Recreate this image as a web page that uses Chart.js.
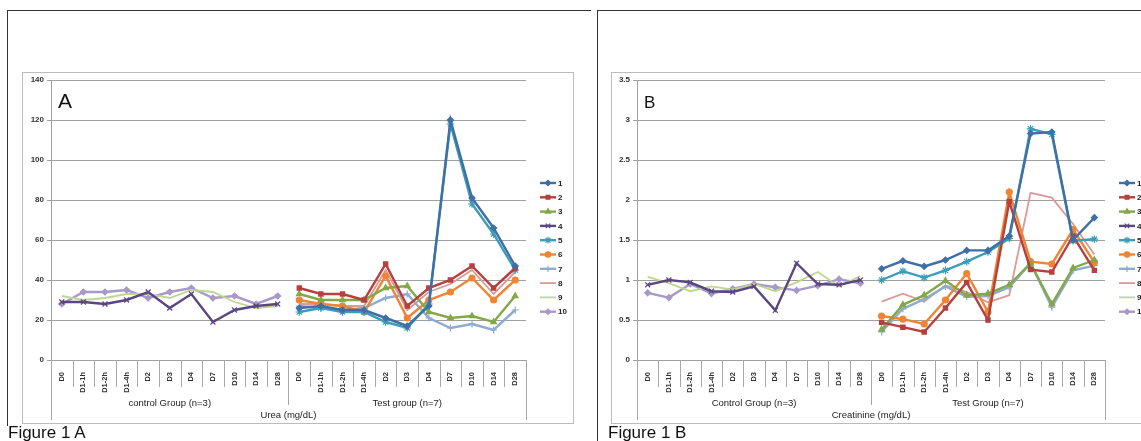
<!DOCTYPE html>
<html>
<head>
<meta charset="utf-8">
<script src="https://cdn.jsdelivr.net/npm/chart.js@4.4.0/dist/chart.umd.min.js"></script>
<style>
  body { margin: 0; width: 1141px; height: 441px; background: #fff; position: relative; overflow: hidden; font-family: 'Liberation Sans', Arial, sans-serif; }
  .frame { position: absolute; border-left: 1px solid #333; border-top: 1px solid #333; }
  .caption { position: absolute; font-size: 17px; color: #111; line-height: 1; }
  canvas { position: absolute; }
</style>
</head>
<body>
<div class="frame" style="left:7px;top:10px;width:583px;height:415px;"></div>
<div class="frame" style="left:597px;top:10px;width:544px;height:431px;"></div>
<canvas id="ureaChart" width="552" height="352" style="left:22px;top:72px;"></canvas>
<canvas id="creatChart" width="540" height="352" style="left:611px;top:72px;"></canvas>
<div class="caption" style="left:8px;top:424px;">Figure 1 A</div>
<div class="caption" style="left:608px;top:424px;">Figure 1 B</div>
<script>
// Time points (same for both groups)
const timePoints = ['D0', 'D1-1h', 'D1-2h', 'D1-4h', 'D2', 'D3', 'D4', 'D7', 'D10', 'D14', 'D28'];
const seriesNames = ['1', '2', '3', '4', '5', '6', '7', '8', '9', '10'];
const controlSeries = ['4', '9', '10']; // n=3, the others are the test group

// Urea (mg/dL), one row per animal
const urea1 = [26, 27, 25, 25, 21, 17, 27, 120, 81, 66, 47];
const urea2 = [36, 33, 33, 30, 48, 27, 36, 40, 47, 36, 46];
const urea3 = [33, 30, 30, 30, 36, 37, 24, 21, 22, 19, 32];
const urea4 = [29, 29, 28, 30, 34, 26, 33, 19, 25, 27, 28];
const urea5 = [24, 26, 24, 24, 19, 16, 28, 118, 78, 63, 45];
const urea6 = [30, 28, 27, 24, 42, 21, 30, 34, 41, 30, 40];
const urea7 = [27, 26, 25, 26, 31, 33, 21, 16, 18, 15, 25];
const urea8 = [28, 28, 27, 27, 45, 25, 34, 38, 45, 33, 44];
const urea9 = [32, 30, 31, 33, 33, 31, 35, 34, 29, 26, 27];
const urea10 = [28, 34, 34, 35, 31, 34, 36, 31, 32, 28, 32];

// Creatinine (mg/dL)
const creat1 = [1.14, 1.24, 1.17, 1.25, 1.37, 1.37, 1.55, 2.83, 2.85, 1.5, 1.78];
const creat2 = [0.47, 0.41, 0.35, 0.65, 0.97, 0.5, 1.98, 1.13, 1.1, 1.55, 1.12];
const creat3 = [0.38, 0.69, 0.81, 0.99, 0.81, 0.83, 0.94, 1.21, 0.7, 1.15, 1.25];
const creat4 = [0.94, 1.0, 0.97, 0.86, 0.85, 0.92, 0.62, 1.21, 0.95, 0.94, 1.0];
const creat5 = [1.0, 1.11, 1.03, 1.12, 1.23, 1.35, 1.52, 2.89, 2.82, 1.49, 1.51];
const creat6 = [0.55, 0.51, 0.45, 0.75, 1.08, 0.6, 2.1, 1.23, 1.2, 1.63, 1.22];
const creat7 = [0.35, 0.64, 0.76, 0.92, 0.79, 0.8, 0.91, 1.21, 0.66, 1.12, 1.18];
const creat8 = [0.73, 0.83, 0.73, 0.93, 0.85, 0.72, 0.81, 2.09, 2.03, 1.7, 1.32];
const creat9 = [1.04, 0.96, 0.86, 0.92, 0.88, 0.95, 0.86, 0.97, 1.1, 0.92, 1.05];
const creat10 = [0.84, 0.78, 0.95, 0.83, 0.89, 0.95, 0.91, 0.87, 0.93, 1.01, 0.96];

const ureaRows = [urea1, urea2, urea3, urea4, urea5, urea6, urea7, urea8, urea9, urea10];
const creatRows = [creat1, creat2, creat3, creat4, creat5, creat6, creat7, creat8, creat9, creat10];

// Excel-like series styles
const colors = ['#3E6FA6', '#B5403D', '#84A848', '#5B4680', '#3C9DB8', '#EE8535', '#8EABD0', '#D99A98', '#BFD68F', '#A799C9'];
const markers = ['rectRot', 'rect', 'triangle', 'crossRot', 'star', 'circle', 'cross', 'circle', 'circle', 'rectRot'];
const markerSize = [3, 3, 3.3, 3.5, 3.8, 3, 3.5, 0, 0, 3];

Chart.defaults.font.family = "'Liberation Sans', Arial, sans-serif";

const allLabels = timePoints.concat(timePoints);
const blanks = timePoints.map(() => null);

function buildDatasets(rows) {
    return rows.map((vals, i) => {
        const isControl = controlSeries.includes(seriesNames[i]);
        return {
            label: seriesNames[i],
            data: isControl ? vals.concat(blanks) : blanks.concat(vals),
            borderColor: colors[i],
            backgroundColor: colors[i],
            borderWidth: (i === 7 || i === 8) ? 1.8 : 2.4,
            pointStyle: markers[i],
            pointRadius: markerSize[i],
            pointBorderWidth: 1.2,
            tension: 0
        };
    });
}

// Multi-level category axis, panel letter, legend and frame
const excelBits = {
    id: 'excelBits',
    afterDraw(chart, args, opts) {
        const ctx = chart.ctx;
        const x = chart.scales.x;
        const area = chart.chartArea;
        const n = chart.data.labels.length;
        const step = x.getPixelForValue(1) - x.getPixelForValue(0);
        const edge = i => x.getPixelForValue(i) - step / 2;
        ctx.save();

        // separators under the axis
        ctx.strokeStyle = '#a8a8a8';
        ctx.lineWidth = 1;
        for (let i = 0; i <= n; i++) {
            let len = 27;
            if (i === 0 || i === n) len = 60;
            else if (i === timePoints.length) len = 45;
            const px = Math.round(edge(i)) + 0.5;
            ctx.beginPath();
            ctx.moveTo(px, area.bottom);
            ctx.lineTo(px, area.bottom + len);
            ctx.stroke();
        }

        // group labels and axis title
        ctx.fillStyle = '#222';
        ctx.font = "9.5px 'Liberation Sans', Arial";
        ctx.textAlign = 'center';
        ctx.textBaseline = 'middle';
        const mid = timePoints.length;
        ctx.fillText(opts.groups[0], (edge(0) + edge(mid)) / 2, area.bottom + 43);
        ctx.fillText(opts.groups[1], (edge(mid) + edge(n)) / 2, area.bottom + 43);
        ctx.fillText(opts.title, (edge(0) + edge(n)) / 2, area.bottom + 55);

        // panel letter
        ctx.fillStyle = '#111';
        ctx.font = opts.letterSize + "px 'Liberation Sans', Arial";
        ctx.textAlign = 'left';
        ctx.textBaseline = 'alphabetic';
        ctx.fillText(opts.letter, area.left + 7, area.top + 28);

        // legend: line with marker, label to the right
        const lx = area.right + 14;
        chart.data.datasets.forEach((ds, i) => {
            const ly = 111 + i * 14.3;
            ctx.strokeStyle = ds.borderColor;
            ctx.fillStyle = ds.backgroundColor;
            ctx.lineWidth = ds.borderWidth;
            ctx.beginPath();
            ctx.moveTo(lx, ly);
            ctx.lineTo(lx + 16, ly);
            ctx.stroke();
            ctx.lineWidth = 1.2;
            Chart.helpers.drawPoint(ctx, { pointStyle: ds.pointStyle, radius: ds.pointRadius * 0.9, rotation: 0, borderWidth: 1.2 }, lx + 8, ly);
            ctx.fillStyle = '#222';
            ctx.font = "bold 8px 'Liberation Sans', Arial";
            ctx.textBaseline = 'middle';
            ctx.fillText(ds.label, lx + 18, ly + 0.5);
        });

        // chart frame
        ctx.strokeStyle = '#bcbcbc';
        ctx.lineWidth = 1;
        ctx.strokeRect(0.5, 0.5, chart.width - 1, chart.height - 1);
        ctx.restore();
    }
};

function makeOptions(cfg) {
    return {
        responsive: false,
        animation: false,
        layout: { padding: { top: 8, right: cfg.padRight, bottom: 0, left: 0 } },
        plugins: {
            legend: { display: false },
            tooltip: { enabled: false },
            excelBits: cfg.bits
        },
        scales: {
            x: {
                offset: true,
                grid: { display: false },
                border: { display: true, color: '#a0a0a0', width: 1 },
                ticks: {
                    autoSkip: false, minRotation: 90, maxRotation: 90, padding: 4,
                    color: '#333', font: { size: 7.5, weight: 'bold' }
                },
                afterFit: s => { s.height = 64; }
            },
            y: {
                min: 0, max: cfg.max,
                ticks: {
                    stepSize: cfg.step, padding: 3, color: '#333', font: { size: 8, weight: 'bold' },
                    callback: v => String(Math.round(v * 100) / 100)
                },
                grid: { color: '#a0a0a0', lineWidth: 1, tickLength: 4 },
                border: { display: true, color: '#a0a0a0', width: 1 },
                afterFit: s => { s.width = cfg.axisWidth; }
            }
        }
    };
}

const ureaCtx = document.getElementById('ureaChart')?.getContext('2d');
if (ureaCtx) {
    new Chart(ureaCtx, {
        type: 'line',
        data: { labels: allLabels, datasets: buildDatasets(ureaRows) },
        options: makeOptions({
            max: 140, step: 20, axisWidth: 29, padRight: 48,
            bits: { groups: ['control Group (n=3)', 'Test group (n=7)'], title: 'Urea (mg/dL)', letter: 'A', letterSize: 21 }
        }),
        plugins: [excelBits]
    });
}

const creatCtx = document.getElementById('creatChart')?.getContext('2d');
if (creatCtx) {
    new Chart(creatCtx, {
        type: 'line',
        data: { labels: allLabels, datasets: buildDatasets(creatRows) },
        options: makeOptions({
            max: 3.5, step: 0.5, axisWidth: 26, padRight: 46,
            bits: { groups: ['Control Group (n=3)', 'Test Group (n=7)'], title: 'Creatinine (mg/dL)', letter: 'B', letterSize: 17 }
        }),
        plugins: [excelBits]
    });
}
</script>
</body>
</html>
